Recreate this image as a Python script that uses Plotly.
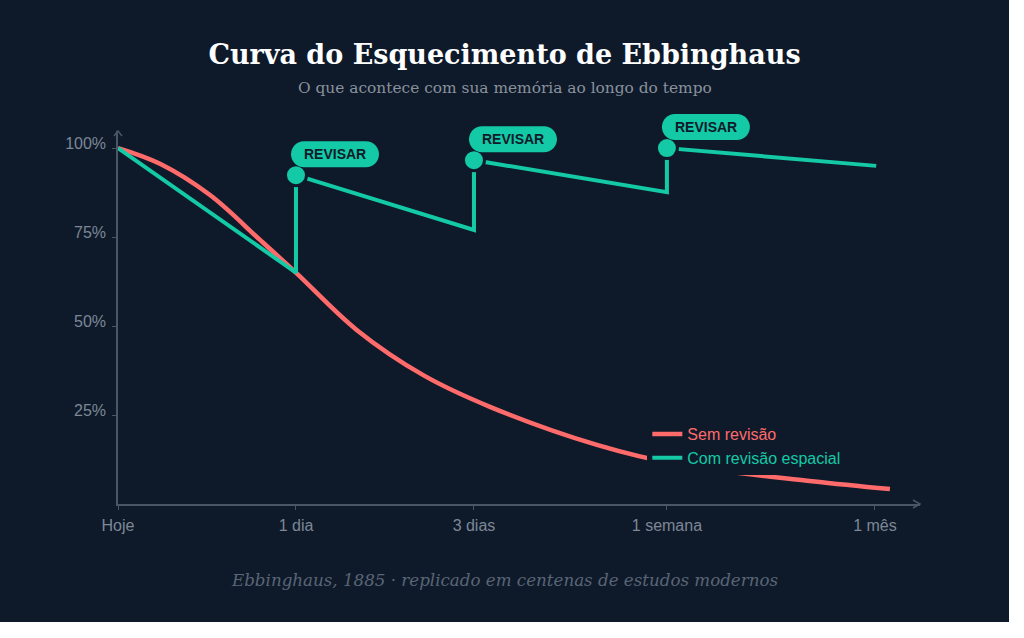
import plotly.graph_objects as go

# Data
tick_pos = [0, 1, 2, 3.084, 4.253]
tick_labels = ['Hoje', '1 dia', '3 dias', '1 semana', '1 mês']

sem_x = [0, 0.236, 0.517, 0.798, 1.004, 1.341, 1.715, 2.090, 2.691, 3.157, 3.9, 4.337]
sem_y = [100, 95.6, 86.8, 74.2, 64.8, 48.9, 36.2, 27.3, 16.6, 11.0, 6.4, 4.2]

com_x = [0, 1, 1, 2, 2, 3.084, 3.084, 4.26]
com_y = [100, 65, 92.4, 77, 96.6, 87.6, 100, 95]

rev_x = [1, 2, 3.084]
rev_y = [92.4, 96.6, 100]

y_ticks = [25, 50, 75, 100]

X_MAX = 4.506
Y_MAX = 104.8

BG = '#0e1a2a'
RED = '#ff6b6b'
TEAL = '#14c9a6'
AXIS = '#4a5566'
TICK = '#7d8796'

fig = go.Figure()
fig.add_trace(go.Scatter(x=sem_x, y=sem_y, mode='lines',
                         line=dict(color=RED, width=4.5, shape='spline', smoothing=1),
                         name="<span style='color:%s'>Sem revisão</span>" % RED,
                         hoverinfo='skip'))
fig.add_trace(go.Scatter(x=com_x, y=com_y, mode='lines',
                         line=dict(color=TEAL, width=4),
                         name="<span style='color:%s'>Com revisão espacial</span>" % TEAL,
                         hoverinfo='skip'))
fig.add_trace(go.Scatter(x=rev_x, y=rev_y, mode='markers', showlegend=False,
                         marker=dict(color=TEAL, size=21, line=dict(color=BG, width=3)),
                         cliponaxis=False, hoverinfo='skip'))

# rounded "REVISAR" pills, in pixels relative to each review point
l, r, b, t, rad = -5, 83, 8, 34, 13
k = 0.5523 * rad
cy = (b + t) / 2
pill = ('M%g,%g L%g,%g C%g,%g %g,%g %g,%g C%g,%g %g,%g %g,%g L%g,%g '
        'C%g,%g %g,%g %g,%g C%g,%g %g,%g %g,%g Z') % (
    l + rad, b, r - rad, b,
    r - rad + k, b, r, cy - k, r, cy,
    r, cy + k, r - rad + k, t, r - rad, t,
    l + rad, t,
    l + rad - k, t, l, cy + k, l, cy,
    l, cy - k, l + rad - k, b, l + rad, b)

shapes = []
annotations = []
for xv, yv in zip(rev_x, rev_y):
    # paper refs so the pills are not clipped by the plot area
    shapes.append(dict(type='path', xref='paper', yref='paper', xsizemode='pixel', ysizemode='pixel',
                       xanchor=xv / X_MAX, yanchor=yv / Y_MAX, path=pill, fillcolor=TEAL,
                       line=dict(width=0), layer='above'))
    annotations.append(dict(x=xv, y=yv, xref='x', yref='y', text='<b>REVISAR</b>',
                            showarrow=False, xshift=39, yshift=21,
                            font=dict(family='Liberation Sans', size=14, color=BG)))

# axis arrow heads
shapes.append(dict(type='path', xref='paper', yref='paper', xsizemode='pixel', ysizemode='pixel',
                   xanchor=0, yanchor=1, path='M-4,-5 L0,0 L4,-5',
                   line=dict(color=AXIS, width=1.5)))
shapes.append(dict(type='path', xref='paper', yref='paper', xsizemode='pixel', ysizemode='pixel',
                   xanchor=1, yanchor=0, path='M-7,4 L0,0 L-7,-4',
                   line=dict(color=AXIS, width=1.5)))

annotations.append(dict(xref='paper', yref='paper', x=0.482, y=1.115, yanchor='middle',
                        text='O que acontece com sua memória ao longo do tempo',
                        showarrow=False,
                        font=dict(family='DejaVu Serif', size=15.4, color='#8a919c')))
annotations.append(dict(xref='paper', yref='paper', x=0.482, y=-0.204, yanchor='middle',
                        text='<i>Ebbinghaus, 1885 · replicado em centenas de estudos modernos</i>',
                        showarrow=False,
                        font=dict(family='DejaVu Serif', size=16.7, color='#5a6576')))

fig.update_layout(
    width=1009, height=622,
    paper_bgcolor=BG, plot_bgcolor=BG,
    margin=dict(l=118, r=89, t=131, b=118),
    title=dict(text='<b>Curva do Esquecimento de Ebbinghaus</b>', x=0.5, xanchor='center',
               y=1 - 55 / 622, yanchor='middle',
               font=dict(family='DejaVu Serif', size=27, color='white')),
    xaxis=dict(range=[0, X_MAX], tickvals=tick_pos, ticktext=tick_labels,
               showgrid=False, zeroline=False, showline=True, linecolor=AXIS, linewidth=1.5,
               ticks='outside', ticklen=4, tickcolor=AXIS, ticklabelstandoff=2,
               tickfont=dict(family='Liberation Sans', size=16, color=TICK)),
    yaxis=dict(range=[0, Y_MAX], tickvals=y_ticks, ticktext=['%d%%' % v for v in y_ticks],
               showgrid=False, zeroline=False, showline=True, linecolor=AXIS, linewidth=1.5,
               ticks='outside', ticklen=4, tickcolor=AXIS, ticklabelstandoff=3,
               ticklabelshift=-5,
               tickfont=dict(family='Liberation Sans', size=16, color=TICK)),
    legend=dict(x=0.66, y=0.233, xanchor='left', yanchor='top', bgcolor=BG,
                font=dict(family='Liberation Sans', size=16, color=TICK)),
    shapes=shapes,
    annotations=annotations,
    showlegend=True,
)

fig.write_html('out.html', config={'displayModeBar': False},
               post_script="document.body.style.margin='0';")
